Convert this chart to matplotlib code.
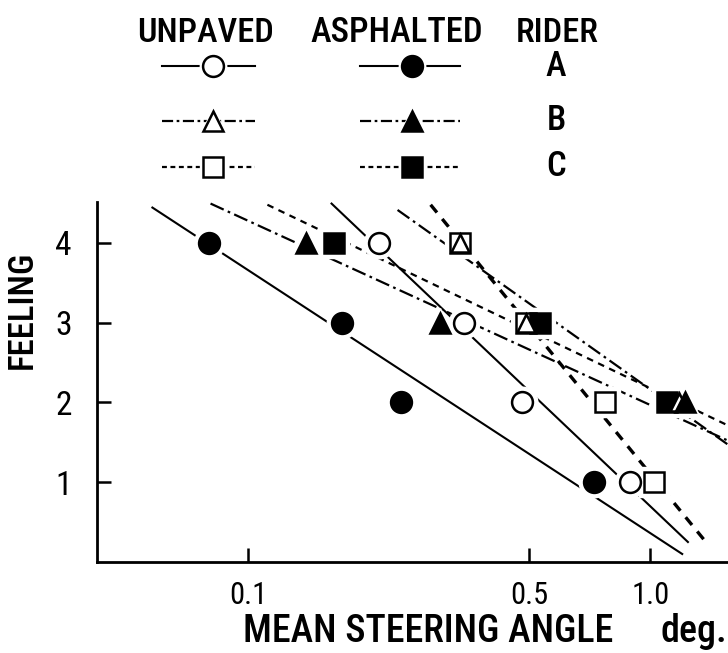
import matplotlib
matplotlib.use('Agg')
import matplotlib.pyplot as plt
import matplotlib.font_manager as fm
from matplotlib.lines import Line2D

# pick a narrow sans if one is installed
_names = {f.name for f in fm.fontManager.ttflist}
_condensed_dejavu = any(f.name == 'DejaVu Sans' and str(f.stretch) in ('condensed', 'semi-condensed')
                        for f in fm.fontManager.ttflist)
FONT = None
for cand in ['Liberation Sans Narrow', 'Roboto Condensed', 'Open Sans Condensed', 'Noto Sans Condensed']:
    if cand in _names:
        FONT = cand
        break
STRETCH = 'normal'
if FONT is None:
    if _condensed_dejavu:
        FONT, STRETCH = 'DejaVu Sans', 'condensed'
    else:
        FONT = 'Roboto' if 'Roboto' in _names else 'DejaVu Sans'
plt.rcParams['font.family'] = [FONT, 'DejaVu Sans']
plt.rcParams['font.stretch'] = STRETCH
WEIGHT = 'medium'

# ---- data ----
feeling_ticks = [1, 2, 3, 4]
x_ticks = [0.1, 0.5, 1.0]
x_tick_labels = ['0.1', '0.5', '1.0']

unpaved_A_x = [0.211, 0.343, 0.48, 0.89]
unpaved_A_y = [4, 3, 2, 1]
asphalted_A_x = [0.080, 0.171, 0.239, 0.726]
asphalted_A_y = [4, 3, 2, 1]
unpaved_B_x = [0.337, 0.49, 1.18]
unpaved_B_y = [4, 3, 2]
asphalted_B_x = [0.139, 0.30, 1.22]
asphalted_B_y = [4, 3, 2]
unpaved_C_x = [0.337, 0.491, 0.773, 1.02]
unpaved_C_y = [4, 3, 2, 1]
asphalted_C_x = [0.163, 0.53, 1.10]
asphalted_C_y = [4, 3, 2]

# fitted lines (end points)
fit_unpaved_A_x = [0.161, 1.24]
fit_unpaved_A_y = [4.49, 0.25]
fit_asphalted_A_x = [0.0577, 1.20]
fit_asphalted_A_y = [4.44, 0.10]
fit_unpaved_B_x = [0.235, 1.56]
fit_unpaved_B_y = [4.41, 1.47]
fit_asphalted_B_x = [0.0805, 1.56]
fit_asphalted_B_y = [4.49, 1.52]
fit_unpaved_C_x = [0.284, 1.39]
fit_unpaved_C_y = [4.475, 0.22]
fit_asphalted_C_x = [0.1115, 1.56]
fit_asphalted_C_y = [4.475, 1.71]

fig = plt.figure(figsize=(7.28, 6.53), dpi=100)
ax = fig.add_axes([0.1332, 0.1394, 0.8668, 0.5513])
ax.set_xscale('log')
ax.set_xlim(0.042, 1.56)
ax.set_ylim(0.0, 4.51)

dash_B = (6.5, 2, 1.2, 2)
dash_C = (3, 2.5)

ax.plot(fit_asphalted_A_x, fit_asphalted_A_y, color='black', lw=1.5, zorder=2)
ax.plot(fit_unpaved_A_x, fit_unpaved_A_y, color='black', lw=1.5, zorder=2)
ax.plot(fit_asphalted_B_x, fit_asphalted_B_y, color='black', lw=1.6, dashes=dash_B, zorder=2)
ax.plot(fit_unpaved_B_x, fit_unpaved_B_y, color='black', lw=1.6, dashes=dash_B, zorder=2)
ax.plot(fit_asphalted_C_x, fit_asphalted_C_y, color='black', lw=1.6, dashes=dash_C, zorder=2)
ax.plot(fit_unpaved_C_x, fit_unpaved_C_y, color='black', lw=2.4, dashes=(3, 2.5), zorder=2)

# drawing order chosen so overlapping symbols look as in the original
series = [
    (unpaved_A_x, unpaved_A_y, 'o', 'white', 15),
    (asphalted_A_x, asphalted_A_y, 'o', 'black', 15),
    (unpaved_C_x, unpaved_C_y, 's', 'white', 14),
    (asphalted_C_x, asphalted_C_y, 's', 'black', 14),
    (unpaved_B_x, unpaved_B_y, '^', 'white', 13),
    (asphalted_B_x, asphalted_B_y, '^', 'black', 15),
]
for xs, ys, m, fc, ms in series:
    ax.plot(xs, ys, ls='none', marker=m, ms=ms + 7, mfc='white', mec='white', zorder=3)
for xs, ys, m, fc, ms in series:
    ax.plot(xs, ys, ls='none', marker=m, ms=ms, mfc=fc, mec='black', mew=1.8, zorder=4)

for s in ['top', 'right']:
    ax.spines[s].set_visible(False)
for s in ['left', 'bottom']:
    ax.spines[s].set_linewidth(2.0)

ax.set_yticks(feeling_ticks)
ax.set_yticklabels([str(v) for v in feeling_ticks])
ax.set_xticks(x_ticks)
ax.set_xticklabels(x_tick_labels)
ax.minorticks_off()
ax.tick_params(axis='both', direction='in', length=10, width=1.8)
ax.tick_params(axis='y', pad=18, labelsize=24)
ax.tick_params(axis='x', pad=14, labelsize=22)

renderer = fig.canvas.get_renderer()


def fit_text(x, y, s, target_w, max_fs, **kw):
    t = fig.text(x / 728, 1 - y / 653, s, fontsize=max_fs, fontweight=WEIGHT, **kw)
    w = t.get_window_extent(renderer).width
    if w > target_w:
        t.set_fontsize(max_fs * target_w / w)
    return t


# y label
fig.text(22 / 728, 1 - 310 / 653, 'FEELING', fontsize=25, fontweight=WEIGHT,
         rotation=90, ha='center', va='center')

# x label
xl = fit_text(243, 642, 'MEAN STEERING ANGLE', 370, 29, ha='left', va='baseline')
fig.text(660 / 728, 1 - 642 / 653, 'deg.', fontsize=xl.get_fontsize(), fontweight=WEIGHT,
         ha='left', va='baseline')

# ---- legend block ----
lax = fig.add_axes([0, 0, 1, 1], facecolor='none')
lax.set_xlim(0, 728)
lax.set_ylim(653, 0)
lax.axis('off')

h1 = fit_text(206, 42, 'UNPAVED', 137, 27, ha='center', va='baseline')
fit_text(397, 42, 'ASPHALTED', 173, 27, ha='center', va='baseline')
fig.text(557 / 728, 1 - 42 / 653, 'RIDER', fontsize=h1.get_fontsize(), fontweight=WEIGHT,
         ha='center', va='baseline')

rows = [
    (66, 'o', {'ls': '-'}, 'A', 1.5),
    (121, '^', {'dashes': (5, 1.6, 1.2, 1.6)}, 'B', 1.6),
    (167, 's', {'dashes': (2.2, 1.6)}, 'C', 1.6),
]
for y, m, style, label, lw in rows:
    for xc, x0, x1, fc in [(213, 162, 255, 'white'), (412, 360, 460, 'black')]:
        lax.add_line(Line2D([x0, x1], [y, y], color='black', lw=lw, **style))
        lax.plot([xc], [y], ls='none', marker=m, ms=19, mfc='white', mec='white', zorder=3)
        lax.plot([xc], [y], ls='none', marker=m, ms=15, mfc=fc, mec='black', mew=1.8, zorder=4)
    lax.text(556, y, label, fontsize=25, fontweight=WEIGHT, ha='center', va='center')

fig.savefig('out.png', dpi=100)
